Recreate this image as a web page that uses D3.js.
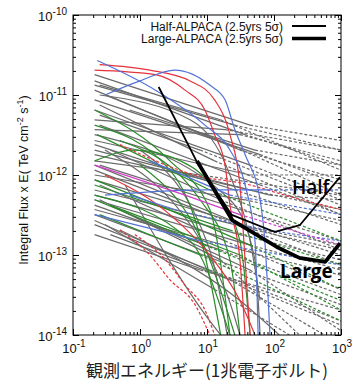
<!DOCTYPE html>
<html><head><meta charset="utf-8">
<script src="https://cdn.jsdelivr.net/npm/d3@7"></script>
<style>body{margin:0;background:#fff}svg{display:block}</style>
</head><body><svg id="c" width="352" height="382"></svg>
<script>
// ---- data (energy in TeV, integral flux x E in TeV cm^-2 s^-1) ----
const xTickValues = [0.1, 1, 10, 100, 1000];
const xTickExps = ["-1", "0", "1", "2", "3"];
const yTickValues = [1e-14, 1e-13, 1e-12, 1e-11, 1e-10];
const yTickExps = ["-14", "-13", "-12", "-11", "-10"];
const legendLabels = ["Half-ALPACA (2.5yrs 5σ)", "Large-ALPACA (2.5yrs 5σ)"];
const curveLabels = ["Half", "Large"];
const xTitle = "観測エネルギー(1兆電子ボルト)";

const halfE = [1.9, 7.1, 23, 103, 244, 966];
const halfF = [1.26e-11, 1.45e-12, 3.2e-13, 1.94e-13, 2.37e-13, 9.4e-13];
const largeE = [7.1, 24, 110, 240, 580, 970];
const largeF = [1.5e-12, 2.7e-13, 1.26e-13, 9.2e-14, 8.2e-14, 1.41e-13];

// each source: [measured points, extrapolated points]
const grayLines = [
 [[[0.21,1.8e-11],[44,4.2e-12]], [[1000,2.7e-12]]],
 [[[0.21,1.5e-11],[37,3.2e-12]], [[1000,1.33e-12]]],
 [[[0.25,1.33e-11],[16,4.9e-12]], [[1000,1.15e-12]]],
 [[[0.21,1.15e-11],[31,2.05e-12]], [[1000,8.7e-13]]],
 [[[0.3,1e-11],[22,2.4e-12]], [[1000,5.6e-13]]],
 [[[0.21,8.7e-12],[62,1.8e-12]], [[1000,7.5e-13]]],
 [[[0.25,7.5e-12],[13,1.5e-12]], [[1000,3.2e-13]]],
 [[[0.21,6.5e-12],[44,1.33e-12]], [[1000,4.9e-13]]],
 [[[0.21,4.9e-12],[18.6,3.7e-12]], [[1000,2.05e-12]]],
 [[[0.21,3.7e-12],[31,3.2e-12]], [[1000,1.5e-12]]],
 [[[0.25,5.6e-12],[7.9,2.05e-12]], [[1000,4.2e-13]]],
 [[[0.21,2.7e-12],[44,1e-12]], [[1000,1e-12]]],
 [[[0.21,2.4e-12],[26,6.5e-13]], [[1000,2.4e-13]]],
 [[[0.36,2.05e-12],[16,4.9e-13]], [[1000,1.15e-13]]],
 [[[0.21,1.8e-12],[44,6.5e-13]], [[1000,3.7e-13]]],
 [[[0.21,1.5e-12],[7.9,1e-12]], [[1000,5.6e-13]]],
 [[[0.25,1.33e-12],[31,3.7e-13]], [[1000,1.5e-13]]],
 [[[0.21,1.15e-12],[11,3.2e-13]], [[1000,7.5e-14]]],
 [[[0.21,1e-12],[37,4.9e-13]], [[1000,2.7e-13]]],
 [[[0.21,8.7e-13],[22,2.7e-13]], [[1000,1e-13]]],
 [[[0.25,7.5e-13],[18.6,1.5e-13]], [[1000,3.7e-14]]],
 [[[0.21,5.6e-13],[31,1.8e-13]], [[1000,8.7e-14]]],
 [[[0.21,4.9e-13],[44,1.33e-13]], [[1000,6.5e-14]]],
 [[[0.21,4.2e-13],[16,1.15e-13]], [[1000,3.2e-14]]],
 [[[0.21,3.7e-13],[62,1e-13]], [[1000,5.6e-14]]],
 [[[0.21,3.2e-13],[22,7.5e-14]], [[1000,2.4e-14]]],
 [[[0.21,2.4e-13],[11,6.5e-14]], [[1000,1.5e-14]]],
 [[[0.36,1.8e-13],[22,4.9e-14]], [[1000,1.33e-14]]],
 [[[0.21,6.5e-13],[26,2.4e-13]], [[1000,1.33e-13]]],
 [[[0.5,2.05e-13],[31,2.7e-14],[120,1e-14]], []],
 [[[0.6,7.5e-13],[11,1.5e-14],[16,1e-14]], []],
 [[[0.3,2.05e-12],[18.6,3.7e-14],[31,1e-14]], []],
 [[[0.21,3.2e-12],[22,4.9e-13],[52,8.7e-14],[62,1e-14]], []],
 [[[0.25,4.9e-13],[16,8.7e-14]], [[240,1e-14]]],
 [[[0.21,2.7e-13],[22,4.9e-14]], [[570,1e-14]]],
 [[[0.36,4.2e-13],[44,6.5e-14]], [[970,1.15e-14]]],
 [[[1,2.05e-12],[11,1.15e-13],[20,1e-14]], []],
 [[[0.7,6.5e-12],[52,2.05e-12]], [[1000,1.33e-12]]],
 [[[0.21,2.05e-12],[87,5.6e-13]], [[1000,4.9e-13]]],
 [[[0.21,1.8e-13],[7.9,6.5e-14]], [[1000,2.05e-14]]],
 [[[0.3,2.4e-13],[13,3.7e-14]], [[170,1e-14]]],
 [[[0.21,1.33e-12],[52,2.05e-13]], [[1000,1.15e-13]]],
 [[[0.25,4.2e-12],[62,7.5e-13]], [[1000,3.2e-13]]],
 [[[0.21,1.33e-11],[26,4.2e-12]], [[1000,2.05e-12]]],
 [[[0.25,1e-11],[5.6,4.9e-12],[22,1e-12],[44,1.5e-13],[62,2.7e-14]], []]
];
const greenLines = [
 [[[0.21,6.5e-12],[2.8,1.5e-12],[11,3.7e-13],[22,1e-14]], []],
 [[[0.21,1.5e-12],[0.84,2.05e-12],[4,1.5e-12],[13,6.5e-13],[31,1.5e-13],[44,1e-14]], []],
 [[[0.21,8.7e-13],[4,3.2e-13],[44,1.33e-13]], [[1000,3.7e-14]]],
 [[[0.21,4.9e-13],[9.3,1.33e-13]], [[1000,2.7e-14]]],
 [[[0.21,4.2e-12],[2.8,1.15e-12],[9.3,1e-13],[16,1e-14]], []],
 [[[0.21,5.6e-13],[5.6,1.5e-13],[22,1e-14]], []],
 [[[1,1.33e-12],[11,8.7e-14],[26,1e-14]], []],
 [[[0.25,3.2e-13],[7.9,1e-13]], [[1000,1.5e-14]]],
 [[[0.21,7.5e-13],[22,2.05e-13]], [[1000,7.5e-14]]],
 [[[0.5,2.7e-12],[7.9,4.9e-13],[22,8.7e-14],[31,1e-14]], []],
 [[[0.23,3.2e-12],[11,6.5e-13]], [[1000,1.5e-13]]],
 [[[0.36,4.2e-13],[31,1e-13]], [[1000,2.05e-14]]]
];
const redLines = [
 [[[0.21,2.05e-11],[1.7,1.8e-11],[4.7,1.15e-11],[9.3,6.5e-12],[13,3.2e-12],[18.6,1.33e-12],[22,4.2e-13],[31,8.7e-14],[37,1e-14]], []],
 [[[0.25,2.4e-11],[1.4,2.05e-11],[5.6,1.5e-11],[13,8.7e-12],[22,3.2e-12],[31,7.5e-13],[37,8.7e-14],[44,1e-14]], []],
 [[[0.3,1e-12],[2.8,3.2e-13],[11,1e-13],[31,2.7e-14],[52,1e-14]], []],
 [[], [[0.5,2.05e-13],[1.4,1e-13],[2.8,4.9e-14],[6.6,2.4e-14],[11,1e-14]]],
 [[], [[0.84,1.8e-13],[2.4,8.7e-14],[4.7,4.2e-14],[9.3,2.05e-14],[13,1e-14]]],
 [[], [[0.5,2.4e-12],[6.6,1e-12],[44,7.5e-13],[145,5.6e-13],[1000,3.7e-13]]]
];
const blueLines = [
 [[[0.23,2.7e-11],[1.7,1.15e-11],[9.3,4.2e-12],[22,2.05e-12],[37,7.5e-13],[52,1.5e-13],[58,1e-14]], []],
 [[[0.3,1e-11],[1,1.5e-11],[3.3,2.05e-11],[11,1.33e-11],[18.6,8.7e-12],[26,3.7e-12],[37,1.8e-12],[62,4.9e-13],[73,1.5e-13],[87,1e-14]], []],
 [[[0.3,5.6e-13],[9.3,6.5e-13],[87,6.5e-13]], [[1000,6.5e-13]]],
 [[[0.21,3.2e-13],[7.9,1.5e-13]], [[1000,7.5e-14]]],
 [[[0.7,5.6e-13],[3.3,3.7e-13]], [[31,2.4e-13],[1000,1.5e-13]]],
 [[[1.4,1.5e-12],[22,5.6e-13]], [[1000,3.2e-13]]]
];
const magentaLines = [
 [[[0.21,1.33e-12],[4.7,5.6e-13],[31,3.2e-13]], [[1000,1.33e-13]]]
];

// ---- drawing ----
const W = 352, H = 382;
const L = 73, R = 341, T = 15, B = 335;
const x = d3.scaleLog().domain([0.1, 1000]).range([L, R]);
const y = d3.scaleLog().domain([1e-14, 1e-10]).range([B, T]);
const svg = d3.select("#c");
svg.append("rect").attr("width", W).attr("height", H).attr("fill", "#fff");
svg.append("defs").append("clipPath").attr("id", "clip")
  .append("rect").attr("x", L).attr("y", T).attr("width", R - L).attr("height", B - T);
const plot = svg.append("g").attr("clip-path", "url(#clip)");

const smooth = d3.line().x(d => x(d[0])).y(d => y(d[1])).curve(d3.curveMonotoneX);
const straight = d3.line().x(d => x(d[0])).y(d => y(d[1]));
const palette = {gray: "#6a6a6a", green: "#2c8a2c", red: "#e5323b", blue: "#5272d6", magenta: "#d03cc6"};
const groups = [["gray", grayLines], ["green", greenLines], ["red", redLines], ["blue", blueLines], ["magenta", magentaLines]];
groups.forEach(([k, arr]) => {
  arr.forEach(([meas, ext]) => {
    if (meas.length) {
      plot.append("path").attr("d", smooth(meas)).attr("fill", "none")
        .attr("stroke", palette[k]).attr("stroke-width", 1.2);
    }
    if (ext.length) {
      const pts = meas.length ? [meas[meas.length - 1], ...ext] : ext;
      plot.append("path").attr("d", smooth(pts)).attr("fill", "none")
        .attr("stroke", palette[k]).attr("stroke-width", 1.2).attr("stroke-dasharray", "3,2");
    }
  });
});

const halfPts = halfE.map((e, i) => [e, halfF[i]]);
const largePts = largeE.map((e, i) => [e, largeF[i]]);
plot.append("path").attr("d", straight(halfPts)).attr("fill", "none").attr("stroke", "#000").attr("stroke-width", 1.8).attr("stroke-linejoin", "round");
plot.append("path").attr("d", straight(largePts)).attr("fill", "none").attr("stroke", "#000").attr("stroke-width", 3.8).attr("stroke-linejoin", "round");

// frame
svg.append("rect").attr("x", L).attr("y", T).attr("width", R - L).attr("height", B - T)
  .attr("fill", "none").attr("stroke", "#000").attr("stroke-width", 1);

// ticks
function minors(lo, hi) {
  const out = [];
  for (let d = lo; d < hi; d *= 10) for (let k = 2; k <= 9; k++) out.push(d * k);
  return out;
}
const xMin = minors(0.1, 1000), yMin = minors(1e-14, 1e-10);
function addAxis(gen, scale, vals, size, tr) {
  const a = svg.append("g").attr("transform", tr)
    .call(gen(scale).tickValues(vals).tickSize(size).tickFormat(""));
  a.select(".domain").remove();
  a.selectAll("line").attr("stroke", "#000").attr("stroke-width", 1);
}
addAxis(d3.axisBottom, x, xTickValues, -6, `translate(0,${B})`);
addAxis(d3.axisBottom, x, xMin, -3, `translate(0,${B})`);
addAxis(d3.axisTop, x, xTickValues, -6, `translate(0,${T})`);
addAxis(d3.axisTop, x, xMin, -3, `translate(0,${T})`);
addAxis(d3.axisLeft, y, yTickValues, -6, `translate(${L},0)`);
addAxis(d3.axisLeft, y, yMin, -3, `translate(${L},0)`);
addAxis(d3.axisRight, y, yTickValues, -6, `translate(${R},0)`);
addAxis(d3.axisRight, y, yMin, -3, `translate(${R},0)`);

const font = "'Liberation Sans', Arial, Helvetica, sans-serif";
yTickValues.forEach((v, i) => {
  const t = svg.append("text").attr("x", L - 6).attr("y", y(v) + 6)
    .attr("text-anchor", "end").attr("font-family", font).attr("fill", "#111");
  t.append("tspan").attr("font-size", 13).text("10");
  t.append("tspan").attr("font-size", 10).attr("dy", -6).text(yTickExps[i]);
});
xTickValues.forEach((v, i) => {
  const t = svg.append("text").attr("x", x(v) + 1).attr("y", 353)
    .attr("text-anchor", "middle").attr("font-family", font).attr("fill", "#111");
  t.append("tspan").attr("font-size", 13).text("10");
  t.append("tspan").attr("font-size", 10).attr("dy", -6).text(xTickExps[i]);
});

// y title
const yt = svg.append("text").attr("transform", "translate(28,180) rotate(-90)")
  .attr("text-anchor", "middle").attr("font-family", font).attr("font-size", 12.5).attr("fill", "#111");
yt.append("tspan").text("Integral Flux x E( TeV cm");
yt.append("tspan").attr("font-size", 9).attr("dy", -5).text("-2");
yt.append("tspan").attr("dy", 5).text(" s");
yt.append("tspan").attr("font-size", 9).attr("dy", -5).text("-1");
yt.append("tspan").attr("dy", 5).text(")");

// x title
svg.append("text").attr("x", 207).attr("y", 377).attr("text-anchor", "middle")
  .attr("font-family", "'Noto Sans CJK JP', sans-serif").attr("font-size", 17).attr("fill", "#222").text(xTitle);

// legend
legendLabels.forEach((lab, i) => {
  const ly = 26 + i * 12.5;
  svg.append("text").attr("x", 283).attr("y", ly + 4.5).attr("text-anchor", "end")
    .attr("font-family", font).attr("font-size", 12).attr("fill", "#111").text(lab);
  svg.append("line").attr("x1", 292).attr("x2", 326).attr("y1", ly).attr("y2", ly)
    .attr("stroke", "#000").attr("stroke-width", i === 0 ? 1.8 : 3.6);
});

// curve labels
svg.append("text").attr("x", 292).attr("y", 194).attr("font-family", "'Open Sans', sans-serif")
  .attr("font-size", 19).attr("font-weight", 600).attr("fill", "#000").text(curveLabels[0]);
svg.append("text").attr("x", 280).attr("y", 278).attr("font-family", "'Open Sans', sans-serif")
  .attr("font-size", 19).attr("font-weight", "bold").attr("fill", "#000").text(curveLabels[1]);
</script></body></html>
